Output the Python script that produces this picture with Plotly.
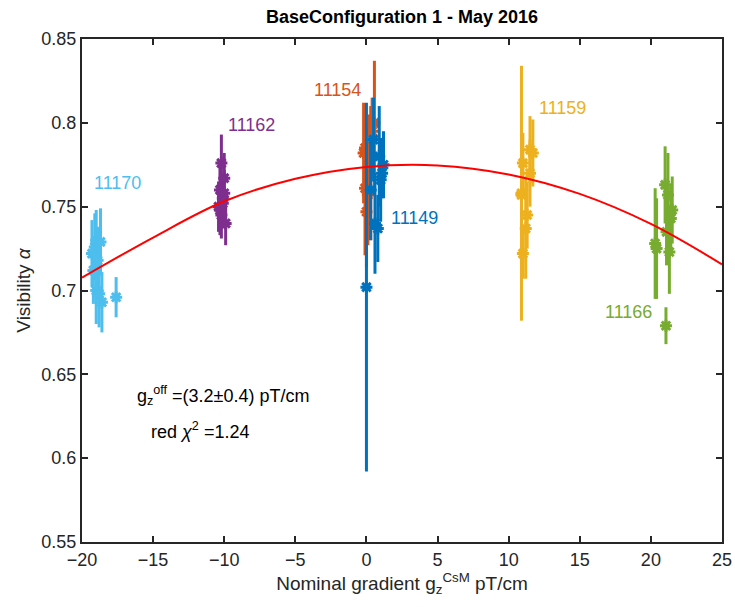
import plotly.graph_objects as go

# ---- data ----
run_names = ["11170", "11162", "11154", "11149", "11159", "11166"]
run_colors = ["#4DBEEE", "#7E2F8E", "#D95319", "#0072BD", "#EDB120", "#77AC30"]

x_11170 = [-19.3, -19.1, -19.0, -18.9, -19.2, -19.0, -18.8, -18.7, -18.6, -17.6]
y_11170 = [0.722, 0.726, 0.730, 0.718, 0.712, 0.700, 0.698, 0.729, 0.693, 0.696]
e_11170 = [0.020, 0.020, 0.018, 0.020, 0.020, 0.020, 0.020, 0.020, 0.018, 0.012]

x_11162 = [-10.2, -10.0, -10.3, -10.1, -10.4, -10.2, -9.9, -10.3, -10.1, -10.0]
y_11162 = [0.776, 0.767, 0.760, 0.755, 0.750, 0.745, 0.740, 0.748, 0.752, 0.758]
e_11162 = [0.017, 0.015, 0.015, 0.014, 0.015, 0.014, 0.013, 0.015, 0.015, 0.014]

x_11154 = [-0.2, -0.1, 0.0, 0.2, 0.4, 0.56, 0.3, 0.1, -0.1]
y_11154 = [0.782, 0.761, 0.747, 0.775, 0.795, 0.800, 0.770, 0.757, 0.785]
e_11154 = [0.030, 0.040, 0.033, 0.030, 0.020, 0.037, 0.040, 0.030, 0.025]

x_11149 = [0.0, 0.9, 1.0, 0.6, 0.8, 1.2, 0.5, 0.3, 1.1]
y_11149 = [0.702, 0.780, 0.766, 0.740, 0.737, 0.775, 0.790, 0.760, 0.770]
e_11149 = [0.110, 0.030, 0.025, 0.030, 0.020, 0.020, 0.025, 0.030, 0.015]

x_11159 = [10.9, 11.5, 11.7, 11.0, 10.9, 11.3, 11.2, 11.0, 11.5]
y_11159 = [0.758, 0.784, 0.782, 0.776, 0.757, 0.745, 0.737, 0.722, 0.770]
e_11159 = [0.076, 0.020, 0.020, 0.018, 0.020, 0.020, 0.030, 0.015, 0.020]

x_11166 = [20.3, 21.0, 21.2, 21.4, 21.1, 21.3, 21.5, 20.4, 21.06]
y_11166 = [0.728, 0.763, 0.757, 0.743, 0.735, 0.723, 0.748, 0.725, 0.679]
e_11166 = [0.033, 0.023, 0.025, 0.020, 0.020, 0.025, 0.020, 0.030, 0.011]

label_x = [-17.5, -8.1, -2.05, 3.4, 13.8, 18.4]
label_y = [0.764, 0.799, 0.8195, 0.743, 0.809, 0.687]

# fit curve
fit_x = [-20, -15, -10, -5, 0, 5, 10, 15, 20, 25]
fit_y = [0.7077, 0.7316, 0.7532, 0.7666, 0.7737, 0.7746, 0.7692, 0.7576, 0.7397, 0.7156]

x_ticks = [-20, -15, -10, -5, 0, 5, 10, 15, 20, 25]
y_ticks = [0.55, 0.6, 0.65, 0.7, 0.75, 0.8, 0.85]
y_ticklabels = ["0.55", "0.6", "0.65", "0.7", "0.75", "0.8", "0.85"]

series = [
    (x_11170, y_11170, e_11170),
    (x_11162, y_11162, e_11162),
    (x_11154, y_11154, e_11154),
    (x_11149, y_11149, e_11149),
    (x_11159, y_11159, e_11159),
    (x_11166, y_11166, e_11166),
]

FONT = "Liberation Sans, Arial, sans-serif"
TXT = "#262626"

fig = go.Figure()
for (xs, ys, es), name, col in zip(series, run_names, run_colors):
    fig.add_trace(go.Scatter(
        x=xs, y=ys, mode="markers", name=name,
        error_y=dict(type="data", array=es, visible=True, color=col,
                     thickness=3, width=0),
        marker=dict(symbol="asterisk-open", size=10, color=col,
                    line=dict(color=col, width=3)),
        showlegend=False,
    ))

fig.add_trace(go.Scatter(x=fit_x, y=fit_y, mode="lines",
                         line=dict(color="#FF0000", width=2, shape="spline"),
                         showlegend=False))

for name, col, lx, ly in zip(run_names, run_colors, label_x, label_y):
    fig.add_annotation(x=lx, y=ly, xref="x", yref="y", text=name,
                       showarrow=False, font=dict(family=FONT, size=18, color=col))

fig.add_annotation(x=-16.3, y=0.6375, xref="x", yref="y", xanchor="left",
                   text="g<sub>z</sub><sup>off</sup> =(3.2±0.4) pT/cm",
                   showarrow=False, font=dict(family=FONT, size=18, color="black"))
fig.add_annotation(x=-15.3, y=0.6165, xref="x", yref="y", xanchor="left",
                   text="red <i>χ</i><sup>2</sup> =1.24",
                   showarrow=False, font=dict(family=FONT, size=18, color="black"))

axis_common = dict(showline=True, linecolor=TXT, linewidth=2, mirror="ticks",
                   ticks="inside", ticklen=6, tickwidth=1.5, tickcolor=TXT,
                   showgrid=False, zeroline=False, automargin=False,
                   tickfont=dict(family=FONT, size=18, color=TXT))

fig.update_xaxes(range=[-20, 25], tickvals=x_ticks,
                 title=dict(text="Nominal gradient g<sub>z</sub><sup>CsM</sup> pT/cm",
                            font=dict(family=FONT, size=19, color=TXT), standoff=4),
                 **axis_common)
fig.update_yaxes(range=[0.55, 0.85], tickvals=y_ticks, ticktext=y_ticklabels,
                 title=dict(text="Visibility <i>α</i>",
                            font=dict(family=FONT, size=19, color=TXT), standoff=6),
                 **axis_common)

fig.update_layout(
    width=735, height=607,
    margin=dict(l=82, r=13, t=39, b=65),
    paper_bgcolor="white", plot_bgcolor="white",
    title=dict(text="<b>BaseConfiguration 1 - May 2016</b>", xref="paper", x=0.5,
               xanchor="center", yref="container", y=0.972, yanchor="middle",
               font=dict(family=FONT, size=18, color="black")),
)

fig.write_html("out.html")
